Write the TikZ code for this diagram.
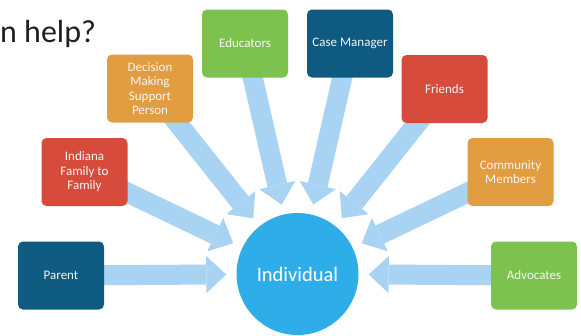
\documentclass[tikz,border=0pt]{standalone}
\usepackage{fontspec}
\setmainfont{Carlito}
\usepackage{tikz}
\usetikzlibrary{arrows.meta, backgrounds}
\definecolor{navy}{HTML}{0E5A80}
\definecolor{brick}{HTML}{D64B3C}
\definecolor{amber}{HTML}{E29D41}
\definecolor{leaf}{HTML}{7DC24F}
\definecolor{sky}{HTML}{2FADE8}
\definecolor{pale}{HTML}{A9D3F3}
\tikzset{
  box/.style = {rectangle, rounded corners=5pt, minimum width=86pt,
    minimum height=68pt, align=center, inner sep=0pt, text=white!96!black,
    font=\fontsize{13}{14.5}\selectfont},
  hub/.style = {circle, fill=sky, minimum size=122pt, inner sep=0pt,
    text=white, font=\fontsize{20.5}{24}\selectfont},
  flow/.style = {draw=pale, line width=20pt, shorten >=10pt,
    -{Triangle[width=0pt 1.85, length=0pt 1, line width=0pt]}}
}
\begin{document}
\begin{tikzpicture}[x=1pt, y=-1pt]
\useasboundingbox (0,0) rectangle (581,335);
\node [anchor=base west, inner sep=0pt, text=black!88,
  font=\fontsize{32}{38}\selectfont] (title) at (0,42) {n help?};
\node [hub] (ind) at (297.5,274) {Individual};
\node [box, fill=navy] (par) at (61,275.5) {Parent};
\node [box, fill=brick] (iff) at (84.5,172) {Indiana\\Family to\\Family};
\node [box, fill=amber] (dms) at (150,88.5) {Decision\\Making\\Support\\Person};
\node [box, fill=leaf] (edu) at (245,43.5) {Educators};
\node [box, fill=navy] (cm) at (350,43.5) {Case Manager};
\node [box, fill=brick] (fr) at (444.5,89) {Friends};
\node [box, fill=amber] (com) at (510.5,172) {Community\\Members};
\node [box, fill=leaf] (adv) at (534,275.5) {Advocates};
\begin{pgfonlayer}{background}
\draw [flow] (par.center) -- (ind);
\draw [flow] (iff.center) -- (ind);
\draw [flow] (dms.center) -- (ind);
\draw [flow] (edu.center) -- (ind);
\draw [flow] (cm.center) -- (ind);
\draw [flow] (fr.center) -- (ind);
\draw [flow] (com.center) -- (ind);
\draw [flow] (adv.center) -- (ind);
\end{pgfonlayer}
\end{tikzpicture}
\end{document}
